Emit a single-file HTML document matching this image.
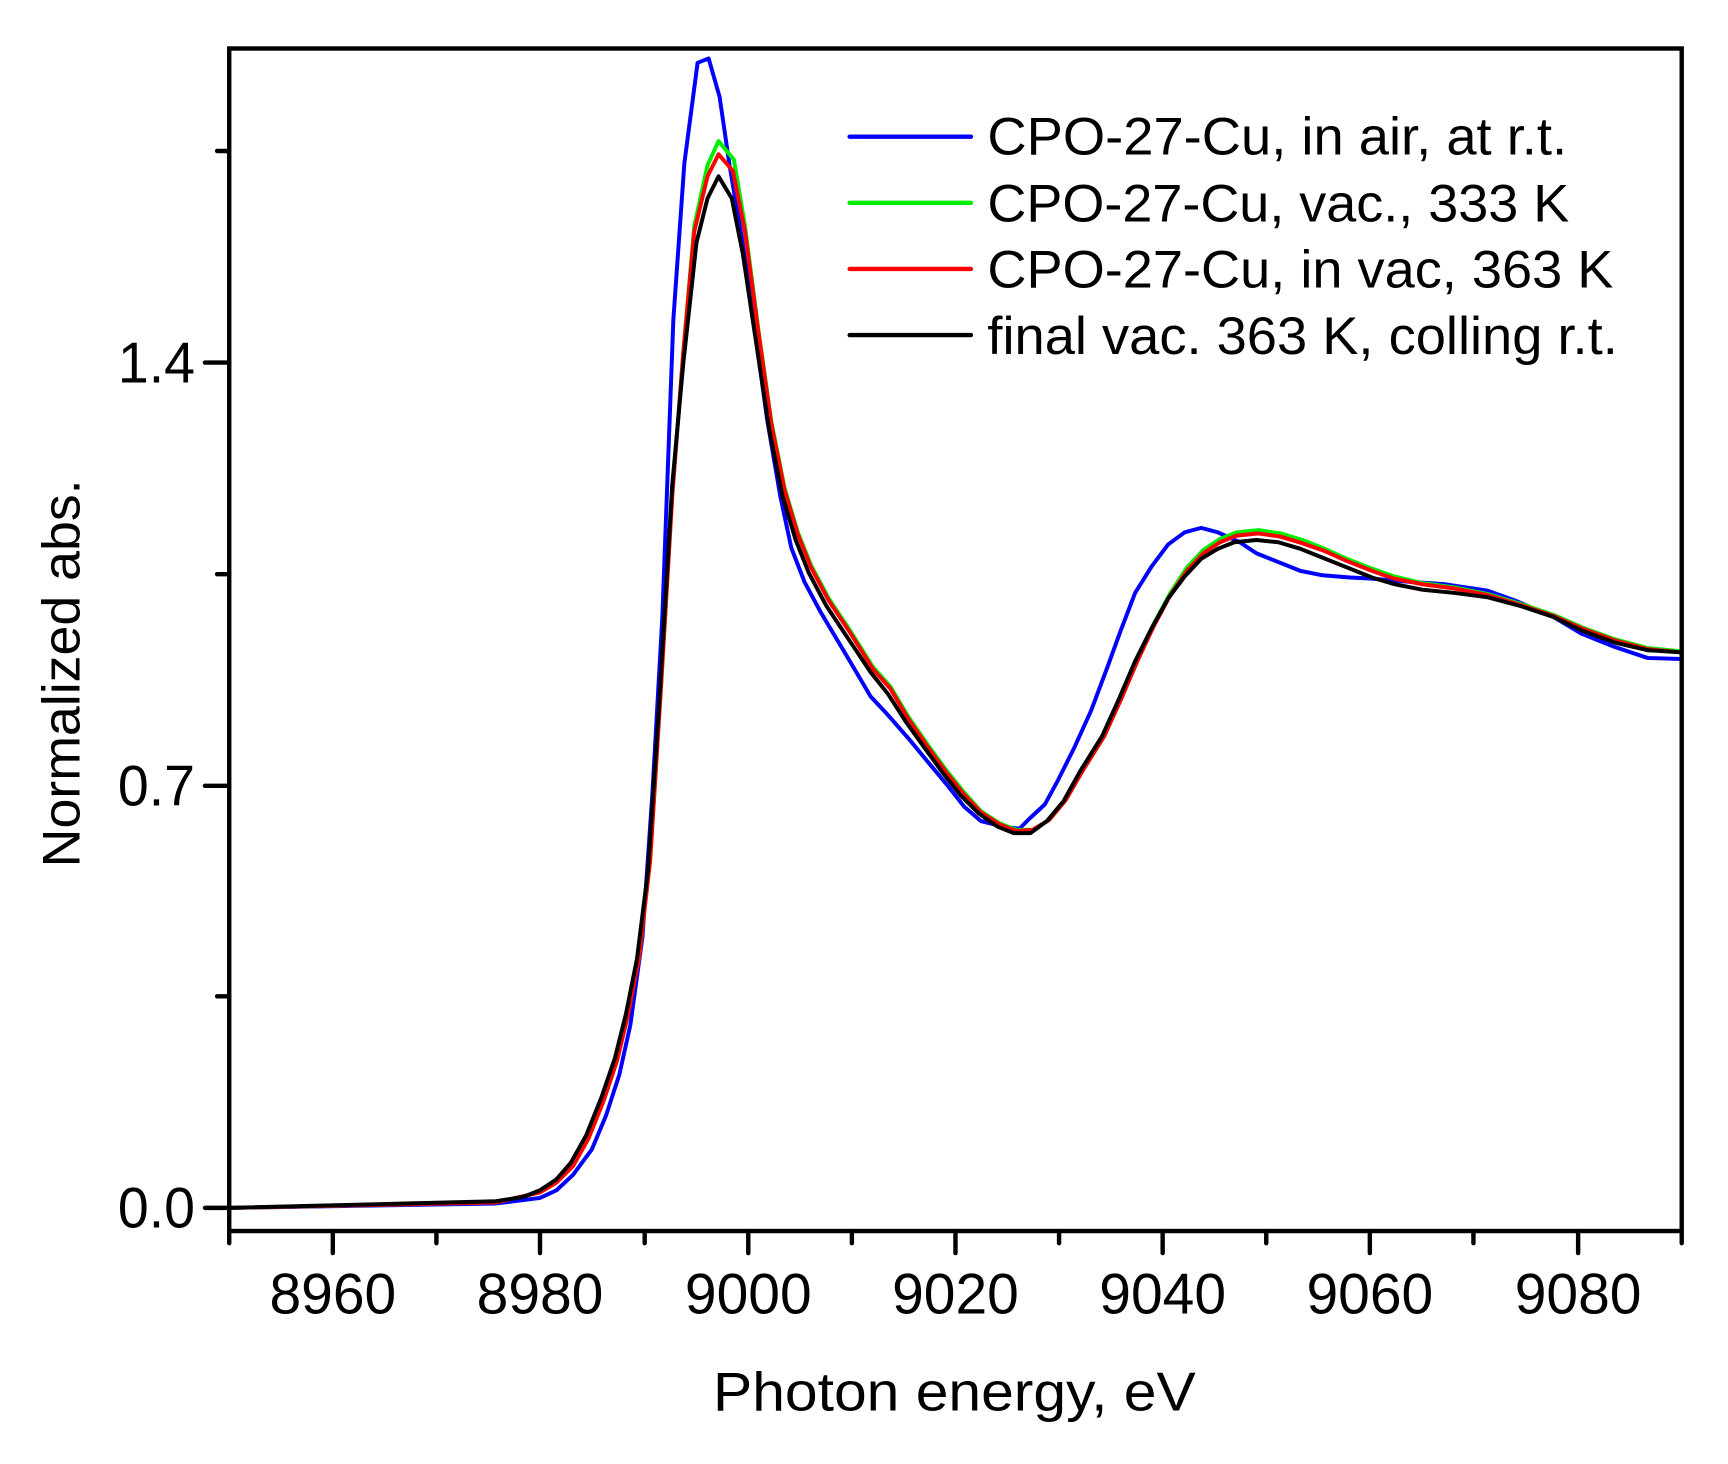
<!DOCTYPE html>
<html><head><meta charset="utf-8"><style>html,body{margin:0;padding:0;background:#fff}svg{display:block}</style></head>
<body>
<svg width="1728" height="1464" viewBox="0 0 1568 1328.4" preserveAspectRatio="none" xmlns="http://www.w3.org/2000/svg" font-family="Liberation Sans, Arial, sans-serif">
<rect x="0" y="0" width="1568" height="1328.4" fill="#fff"/>
<defs><clipPath id="c"><rect x="208" y="44" width="1318" height="1073"/></clipPath></defs>
<g clip-path="url(#c)" fill="none" stroke-width="3.6" stroke-linejoin="round">
<polyline stroke="#0000ff" points="208,1096 450,1092 490,1087 505,1080 520,1066 537,1043 550,1012 562,975 572,930 583,850 592,720 601,560 611,290 621,148 633,57 643,53 653,88 662,150 673,215 685,300 696,380 708,450 718,497 730,528 745,556 770,598 790,632 805,648 826,672 845,695 860,713 875,732 890,745 910,750 925,752 935,742 948,730 960,708 975,678 990,645 1005,605 1017,572 1030,538 1045,514 1060,494 1075,483 1090,479 1105,483 1125,492 1140,502 1160,510 1180,518 1200,522 1225,524 1245,525 1280,528 1310,530 1350,536 1375,545 1410,560 1435,575 1465,587 1495,597 1526,598"/>
<polyline stroke="#00ee00" points="208,1096 450,1091 490,1082 505,1073 520,1058 534,1033 548,998 560,962 570,920 580,868 590,780 600,620 610,450 620,320 630,205 642,150 652,128 666,145 676,205 688,298 700,383 712,443 724,483 736,513 752,543 772,573 792,605 808,623 824,650 842,676 858,698 874,718 890,736 907,747 922,753 937,753 952,744 967,726 982,700 1002,668 1017,635 1032,600 1047,566 1062,538 1077,515 1092,499 1107,489 1122,483 1142,481 1162,484 1182,490 1202,498 1222,507 1245,516 1265,523 1290,529 1320,533 1350,539 1380,548 1410,558 1435,569 1465,580 1495,588 1526,591"/>
<polyline stroke="#ff0000" points="208,1096 450,1091 490,1082 505,1073 520,1058 534,1033 548,998 560,962 570,920 580,868 590,780 600,620 610,450 620,320 630,210 642,160 652,140 665,155 676,210 688,300 700,385 712,445 724,485 736,515 752,545 772,575 792,607 808,625 824,652 842,678 858,700 874,720 890,737 907,748 922,754 937,753 952,744 967,726 982,700 1002,668 1017,635 1032,600 1047,568 1062,540 1077,518 1092,502 1107,492 1122,486 1142,484 1162,487 1182,493 1202,500 1222,509 1245,518 1265,525 1290,530 1320,534 1350,540 1380,549 1410,559 1435,570 1465,581 1495,589 1526,592"/>
<polyline stroke="#000000" points="208,1096 450,1090 475,1086 490,1080 505,1070 518,1055 532,1030 546,995 558,960 568,920 578,870 588,790 598,640 610,440 620,330 632,220 642,180 652,160 664,180 674,230 686,310 698,390 710,450 722,490 734,520 750,550 770,580 790,610 806,630 822,655 840,680 856,702 872,722 888,738 905,750 920,756 935,756 950,745 965,727 980,700 1000,668 1015,635 1030,600 1045,570 1060,543 1075,523 1090,507 1105,498 1120,492 1140,490 1160,492 1180,498 1200,506 1220,514 1245,524 1265,530 1290,535 1320,538 1350,542 1380,550 1410,560 1435,572 1465,583 1495,590 1526,592"/>
</g>
<rect x="208" y="44" width="1318" height="1073" fill="none" stroke="#000" stroke-width="4"/>
<g stroke="#000" stroke-width="4" stroke-linecap="round">
<line x1="186" y1="1096" x2="208" y2="1096"/><line x1="186" y1="713" x2="208" y2="713"/><line x1="186" y1="329" x2="208" y2="329"/>
<line x1="197" y1="904" x2="208" y2="904"/><line x1="197" y1="521" x2="208" y2="521"/><line x1="197" y1="137" x2="208" y2="137"/>
<line x1="302" y1="1117" x2="302" y2="1137"/><line x1="490" y1="1117" x2="490" y2="1137"/><line x1="679" y1="1117" x2="679" y2="1137"/><line x1="867" y1="1117" x2="867" y2="1137"/><line x1="1055" y1="1117" x2="1055" y2="1137"/><line x1="1243" y1="1117" x2="1243" y2="1137"/><line x1="1432" y1="1117" x2="1432" y2="1137"/>
<line x1="208" y1="1117" x2="208" y2="1128"/><line x1="396" y1="1117" x2="396" y2="1128"/><line x1="585" y1="1117" x2="585" y2="1128"/><line x1="773" y1="1117" x2="773" y2="1128"/><line x1="961" y1="1117" x2="961" y2="1128"/><line x1="1149" y1="1117" x2="1149" y2="1128"/><line x1="1337" y1="1117" x2="1337" y2="1128"/><line x1="1526" y1="1117" x2="1526" y2="1128"/>
</g>
<g font-size="52" fill="#000" text-anchor="middle">
<text x="302" y="1192" textLength="115" lengthAdjust="spacingAndGlyphs">8960</text><text x="490" y="1192" textLength="115" lengthAdjust="spacingAndGlyphs">8980</text><text x="679" y="1192" textLength="115" lengthAdjust="spacingAndGlyphs">9000</text><text x="867" y="1192" textLength="115" lengthAdjust="spacingAndGlyphs">9020</text><text x="1055" y="1192" textLength="115" lengthAdjust="spacingAndGlyphs">9040</text><text x="1243" y="1192" textLength="115" lengthAdjust="spacingAndGlyphs">9060</text><text x="1432" y="1192" textLength="115" lengthAdjust="spacingAndGlyphs">9080</text>
</g>
<g font-size="52" fill="#000" text-anchor="end">
<text x="177" y="1114" textLength="70" lengthAdjust="spacingAndGlyphs">0.0</text><text x="177" y="731" textLength="70" lengthAdjust="spacingAndGlyphs">0.7</text><text x="177" y="347" textLength="70" lengthAdjust="spacingAndGlyphs">1.4</text>
</g>
<text x="866" y="1280" font-size="50" text-anchor="middle" textLength="438" lengthAdjust="spacingAndGlyphs">Photon energy, eV</text>
<text transform="translate(72,611) rotate(-90)" font-size="48" text-anchor="middle" textLength="352" lengthAdjust="spacingAndGlyphs">Normalized abs.</text>
<g stroke-width="4" stroke-linecap="round">
<line x1="771" y1="124" x2="881" y2="124" stroke="#0000ff"/>
<line x1="771" y1="184" x2="881" y2="184" stroke="#00ee00"/>
<line x1="771" y1="244" x2="881" y2="244" stroke="#ff0000"/>
<line x1="771" y1="304" x2="881" y2="304" stroke="#000"/>
</g>
<g font-size="48" fill="#000">
<text x="896" y="140" textLength="526" lengthAdjust="spacingAndGlyphs">CPO-27-Cu, in air, at r.t.</text>
<text x="896" y="201" textLength="528" lengthAdjust="spacingAndGlyphs">CPO-27-Cu, vac., 333 K</text>
<text x="896" y="261" textLength="568" lengthAdjust="spacingAndGlyphs">CPO-27-Cu, in vac, 363 K</text>
<text x="896" y="321" textLength="572" lengthAdjust="spacingAndGlyphs">final vac. 363 K, colling r.t.</text>
</g>
</svg>
</body></html>
